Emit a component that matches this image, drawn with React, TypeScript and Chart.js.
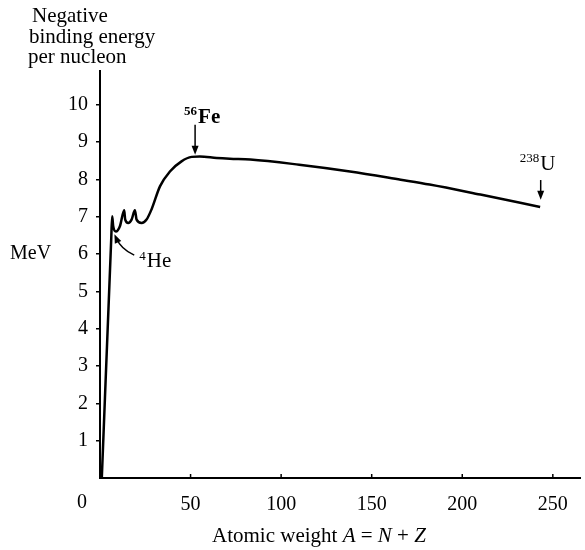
import React, { useEffect, useRef } from 'react';
import { Chart, registerables } from 'chart.js';

Chart.register(...registerables);

// Atomic weight A (x) and negative binding energy per nucleon in MeV (y)
const massNumbers = [1, 6.18, 6.73, 7.29, 8.78, 10.99, 13.36, 13.91, 15.57, 17.44, 19.27, 20.2, 22.96, 25.7, 28.5, 33.1, 38.6, 45.0, 50.6, 55.1, 64.4, 71.7, 83, 110, 138, 166, 182, 210, 243];
const bindingEnergy = [0, 6.38, 7.01, 6.74, 6.6, 6.74, 7.17, 6.92, 6.83, 6.92, 7.17, 6.92, 6.83, 6.92, 7.2, 7.81, 8.21, 8.48, 8.6, 8.61, 8.57, 8.55, 8.53, 8.39, 8.21, 7.99, 7.86, 7.59, 7.26];

const xTickValues = [0, 50, 100, 150, 200, 250];
const yTickValues = [1, 2, 3, 4, 5, 6, 7, 8, 9, 10];
const titleLines = ['Negative', 'binding energy', 'per nucleon'];
const yUnit = 'MeV';

// annotation anchors in data units
const feArrow = { a: 52.5, from: 9.46, to: 8.66 };
const uArrow = { a: 243.3, from: 7.98, to: 7.45 };
const heArrow = { fromA: 18.9, fromV: 5.97, ctrlA: 11.6, ctrlV: 6.13, toA: 7.95, toV: 6.53 };

const SERIF = '"Liberation Serif", "Times New Roman", serif';

function arrowHead(ctx: CanvasRenderingContext2D, x: number, y: number, angle: number) {
  const len = 9, half = 3.5;
  ctx.save();
  ctx.translate(x, y);
  ctx.rotate(angle);
  ctx.beginPath();
  ctx.moveTo(0, 0);
  ctx.lineTo(-len, -half);
  ctx.lineTo(-len, half);
  ctx.closePath();
  ctx.fill();
  ctx.restore();
}

function supLabel(ctx: CanvasRenderingContext2D, sup: string, main: string, x: number, baseline: number, size: number, bold: boolean) {
  const w = bold ? 'bold ' : '';
  ctx.textAlign = 'left';
  ctx.textBaseline = 'alphabetic';
  ctx.font = `${w}${Math.round(size * 0.62)}px ${SERIF}`;
  ctx.fillText(sup, x, baseline - size * 0.36);
  const sw = ctx.measureText(sup).width;
  ctx.font = `${w}${size}px ${SERIF}`;
  ctx.fillText(main, x + sw + 1, baseline);
}

const decorPlugin = {
  id: 'decor',
  afterDraw(chart: any) {
    const { ctx, chartArea } = chart;
    const xs = chart.scales.x;
    const ys = chart.scales.y;
    ctx.save();
    ctx.fillStyle = '#000';
    ctx.strokeStyle = '#000';

    // inward x tick marks
    ctx.lineWidth = 1.5;
    xTickValues.forEach((t) => {
      if (t === 0) return;
      const px = xs.getPixelForValue(t);
      ctx.beginPath();
      ctx.moveTo(px, chartArea.bottom);
      ctx.lineTo(px, chartArea.bottom - 4);
      ctx.stroke();
    });

    // shared corner "0"
    ctx.font = `20px ${SERIF}`;
    ctx.textAlign = 'center';
    ctx.textBaseline = 'middle';
    ctx.fillText('0', chartArea.left - 18, chartArea.bottom + 25);

    // x axis title with italic symbols
    const parts: [string, boolean][] = [['Atomic weight ', false], ['A', true], [' = ', false], ['N', true], [' + ', false], ['Z', true]];
    let tx = 212;
    const tBase = 542;
    ctx.textAlign = 'left';
    ctx.textBaseline = 'alphabetic';
    parts.forEach(([s, it]) => {
      ctx.font = `${it ? 'italic ' : ''}21px ${SERIF}`;
      ctx.fillText(s, tx, tBase);
      tx += ctx.measureText(s).width;
    });

    // top-left title
    ctx.font = `21px ${SERIF}`;
    ctx.fillText(titleLines[0], 32, 22);
    ctx.fillText(titleLines[1], 29, 43);
    ctx.fillText(titleLines[2], 28, 63);

    // unit
    ctx.font = `20px ${SERIF}`;
    ctx.fillText(yUnit, 10, ys.getPixelForValue(6) + 5);

    // Fe arrow + label
    ctx.lineWidth = 1.5;
    let ax = xs.getPixelForValue(feArrow.a);
    let y1 = ys.getPixelForValue(feArrow.from);
    let y2 = ys.getPixelForValue(feArrow.to);
    ctx.beginPath();
    ctx.moveTo(ax, y1);
    ctx.lineTo(ax, y2 - 6);
    ctx.stroke();
    arrowHead(ctx, ax, y2, Math.PI / 2);
    supLabel(ctx, '56', 'Fe', ax - 11, y1 - 2, 21, true);

    // U arrow + label
    ax = xs.getPixelForValue(uArrow.a);
    y1 = ys.getPixelForValue(uArrow.from);
    y2 = ys.getPixelForValue(uArrow.to);
    ctx.beginPath();
    ctx.moveTo(ax, y1);
    ctx.lineTo(ax, y2 - 6);
    ctx.stroke();
    arrowHead(ctx, ax, y2, Math.PI / 2);
    supLabel(ctx, '238', 'U', ax - 21, y1 - 10, 21, false);

    // He curved arrow + label
    const hx0 = xs.getPixelForValue(heArrow.fromA), hy0 = ys.getPixelForValue(heArrow.fromV);
    const hcx = xs.getPixelForValue(heArrow.ctrlA), hcy = ys.getPixelForValue(heArrow.ctrlV);
    const hx1 = xs.getPixelForValue(heArrow.toA), hy1 = ys.getPixelForValue(heArrow.toV);
    ctx.beginPath();
    ctx.moveTo(hx0, hy0);
    ctx.quadraticCurveTo(hcx, hcy, hx1 + 2, hy1 + 4);
    ctx.stroke();
    arrowHead(ctx, hx1, hy1, Math.atan2(hy1 - hcy, hx1 - hcx));
    supLabel(ctx, '4', 'He', hx0 + 5, hy0 + 12, 21, false);

    ctx.restore();
  },
};

export default function App() {
  const canvasRef = useRef<HTMLCanvasElement | null>(null);

  useEffect(() => {
    const canvas = canvasRef.current;
    if (!canvas) return;
    const chart = new Chart(canvas, {
      type: 'line',
      data: {
        datasets: [
          {
            data: massNumbers.map((a, i) => ({ x: a, y: bindingEnergy[i] })),
            borderColor: '#000',
            borderWidth: 2.5,
            pointRadius: 0,
            fill: false,
            cubicInterpolationMode: 'monotone',
          },
        ],
      },
      options: {
        responsive: false,
        animation: false,
        devicePixelRatio: 1,
        layout: { padding: { left: 0, right: 5, top: 71, bottom: 0 } },
        plugins: { legend: { display: false }, tooltip: { enabled: false }, title: { display: false } },
        scales: {
          x: {
            type: 'linear',
            min: 0,
            max: 265,
            afterFit: (scale: any) => {
              scale.height = 72;
            },
            afterBuildTicks: (scale: any) => {
              scale.ticks = xTickValues.map((v) => ({ value: v }));
            },
            grid: { display: false },
            border: { display: true, color: '#000', width: 2 },
            ticks: {
              color: '#000',
              padding: 7,
              maxRotation: 0,
              autoSkip: false,
              font: { family: SERIF, size: 20 },
              callback: (v: any) => (Number(v) === 0 ? '' : String(v)),
            },
          },
          y: {
            type: 'linear',
            min: 0,
            max: 10.9,
            afterFit: (scale: any) => {
              scale.width = 100;
            },
            afterBuildTicks: (scale: any) => {
              scale.ticks = yTickValues.map((v) => ({ value: v }));
            },
            grid: { display: true, drawOnChartArea: false, drawTicks: true, tickLength: 4, color: '#000', lineWidth: 1.5 },
            border: { display: true, color: '#000', width: 2 },
            ticks: {
              color: '#000',
              padding: 8,
              autoSkip: false,
              font: { family: SERIF, size: 20 },
              callback: (v: any) => String(v),
            },
          },
        },
      },
      plugins: [decorPlugin],
    } as any);
    return () => chart.destroy();
  }, []);

  return (
    <div style={{ position: 'fixed', left: 0, top: 0, width: 585, height: 550, background: '#fff' }}>
      <canvas ref={canvasRef} width={585} height={550} style={{ display: 'block', width: 585, height: 550 }} />
    </div>
  );
}
